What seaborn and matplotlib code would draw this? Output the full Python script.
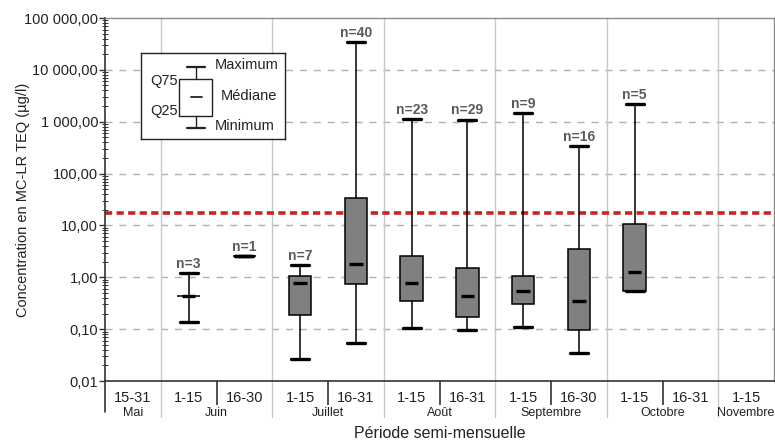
import numpy as np
import pandas as pd
import matplotlib
matplotlib.use("Agg")
import matplotlib.pyplot as plt
import matplotlib.ticker as mtick
from matplotlib.patches import Rectangle
import seaborn as sns

# ── Data ────────────────────────────────────────────────────────────
slots = ["Mai 15-31", "Juin 1-15", "Juin 16-30", "Juillet 1-15",
         "Juillet 16-31", "Août 1-15", "Août 16-31", "Septembre 1-15",
         "Septembre 16-30", "Octobre 1-15", "Octobre 16-31", "Novembre 1-15"]
period_labels = ["15-31", "1-15", "16-30", "1-15", "16-31", "1-15",
                 "16-31", "1-15", "16-30", "1-15", "16-31", "1-15"]
months = ["Mai", "Juin", "Juillet", "Août", "Septembre", "Octobre", "Novembre"]
month_span = [1, 2, 2, 2, 2, 2, 1]

n_obs = [0, 3, 1, 7, 40, 23, 29, 9, 16, 5, 0, 0]
minimum = [np.nan, 0.14, 2.57, 0.027, 0.055, 0.107, 0.097, 0.112, 0.034, 0.55, np.nan, np.nan]
q25 = [np.nan, 0.43, 2.57, 0.185, 0.75, 0.355, 0.174, 0.30, 0.097, 0.55, np.nan, np.nan]
median = [np.nan, 0.43, 2.57, 0.77, 1.78, 0.77, 0.43, 0.54, 0.355, 1.28, np.nan, np.nan]
q75 = [np.nan, 0.43, 2.57, 1.06, 33.3, 2.6, 1.53, 1.06, 3.5, 10.8, np.nan, np.nan]
maximum = [np.nan, 1.19, 2.57, 1.73, 33800, 1107, 1100, 1445, 343, 2180, np.nan, np.nan]

seuil = 17.0  # red threshold line

# five summary values per slot -> seaborn's own percentiles give them back
rows = []
for i, s in enumerate(slots):
    if n_obs[i] == 0:
        continue
    for v in (minimum[i], q25[i], median[i], q75[i], maximum[i]):
        rows.append({"slot": s, "value": v})
df = pd.DataFrame(rows)

sns.set_theme(style="white")
plt.rcParams["font.family"] = ["Liberation Sans", "DejaVu Sans"]

fig = plt.figure(figsize=(7.75, 4.44), dpi=100)
ax = fig.add_axes([105 / 775, 1 - 381 / 444, 669 / 775, 363 / 444])

sns.boxplot(data=df, x="slot", y="value", order=slots, ax=ax,
            log_scale=True, whis=(0, 100), width=0.4, color="#808080",
            linecolor="black", linewidth=1.1, showfliers=False,
            capwidths=0.32,
            boxprops=dict(facecolor="#808080", edgecolor="black"),
            whiskerprops=dict(color="black", linewidth=1.1),
            capprops=dict(color="black", linewidth=2.4),
            medianprops=dict(color="black", linewidth=2.4, gid="median"))

# shorter median ticks like the original
for ln in ax.lines:
    if ln.get_gid() == "median":
        xd = np.asarray(ln.get_xdata(), dtype=float)
        c = xd.mean()
        ln.set_xdata(c + (xd - c) * 0.6)

ax.set_xlim(-0.5, len(slots) - 0.5)
ax.set_ylim(0.01, 100000)

# grid lines
for e in range(-1, 5):
    ax.axhline(10.0 ** e, color="#b0b0b0", lw=1, ls=(0, (5, 5)), zorder=0)
bounds = np.cumsum(month_span)[:-1] - 0.5
for b in bounds:
    ax.axvline(b, ymin=-0.1, ymax=1, color="#c8c8c8", lw=1, zorder=0,
               clip_on=False)

ax.axhline(seuil, color="#c82424", lw=2.6, ls=(0, (2, 1.2)), zorder=1)

# n labels
for i, n in enumerate(n_obs):
    if n > 0:
        ax.annotate(f"n={n}", (i, maximum[i]), xytext=(0, 1.5),
                    textcoords="offset points", ha="center", va="bottom",
                    fontsize=10, fontweight="bold", color="#5a5a5a")

# y axis
ax.yaxis.set_major_locator(mtick.LogLocator(base=10, numticks=10))
ax.yaxis.set_minor_locator(mtick.LogLocator(base=10, subs=np.arange(2, 10), numticks=10))
ax.yaxis.set_major_formatter(mtick.FuncFormatter(
    lambda v, p: f"{v:,.2f}".replace(",", " ").replace(".", ",")))
ax.yaxis.set_minor_formatter(mtick.NullFormatter())
ax.tick_params(axis="y", which="major", direction="out", length=4, width=1,
               labelsize=10.5, color="#333333", labelcolor="#222222",
               pad=1, left=True)
ax.tick_params(axis="y", which="minor", direction="inout", length=4, width=0.7,
               color="#333333", left=True)
ax.set_ylabel("Concentration en MC-LR TEQ (µg/l)", fontsize=10.5, color="#222222")
ax.yaxis.set_label_coords(-0.112, 0.5)

# x axis: half-month labels, separators, month names
ax.set_xticks(range(len(slots)))
ax.set_xticklabels(period_labels)
ax.tick_params(axis="x", which="major", length=0, labelsize=10.5,
               colors="#222222", pad=7)
within = [s + 0.5 for s, sp in zip(np.cumsum([0] + month_span[:-1]), month_span) if sp == 2]
ax.set_xticks(within, minor=True)
ax.tick_params(axis="x", which="minor", direction="out", length=17,
               width=1.2, color="#333333", bottom=True)
ax.axvline(-0.5, ymin=-0.085, ymax=0, color="#333333", lw=1.2, clip_on=False)

start = 0
for m, sp in zip(months, month_span):
    ax.text(start + sp / 2 - 0.5, -0.088, m, transform=ax.get_xaxis_transform(),
            ha="center", va="center", fontsize=9, color="#222222",
            family=["Liberation Sans Narrow", "Liberation Sans", "DejaVu Sans"])
    start += sp

ax.set_xlabel("Période semi-mensuelle", fontsize=11.5, color="#222222")
ax.xaxis.set_label_coords(0.5, -0.125)

for side in ["left", "bottom"]:
    ax.spines[side].set_color("#333333")
    ax.spines[side].set_linewidth(1.2)
for side in ["top", "right"]:
    ax.spines[side].set_color("#8a8a8a")
    ax.spines[side].set_linewidth(1)

# key box (schematic)
key = ax.inset_axes([0.054, 0.667, 0.215, 0.237])
key.set_xlim(0, 144)
key.set_ylim(86, 0)
key.set_xticks([])
key.set_yticks([])
for sp in key.spines.values():
    sp.set_color("#222222")
    sp.set_linewidth(1)
key.add_patch(Rectangle((38, 26), 33, 37, facecolor="white", edgecolor="#222222", lw=1))
key.plot([55, 55], [26, 14], color="#222222", lw=1)
key.plot([55, 55], [63, 75], color="#222222", lw=1)
key.plot([46, 64], [14, 14], color="#222222", lw=1.6)
key.plot([46, 64], [75, 75], color="#222222", lw=1.6)
key.plot([50, 61], [44, 44], color="#222222", lw=1.3)
kfont = dict(fontsize=10.5, color="#222222", va="center")
key.text(74, 12, "Maximum", ha="left", **kfont)
key.text(80, 43, "Médiane", ha="left", **kfont)
key.text(74, 73, "Minimum", ha="left", **kfont)
key.text(37, 28, "Q75", ha="right", **kfont)
key.text(37, 58, "Q25", ha="right", **kfont)

fig.savefig("out.png", dpi=100)
